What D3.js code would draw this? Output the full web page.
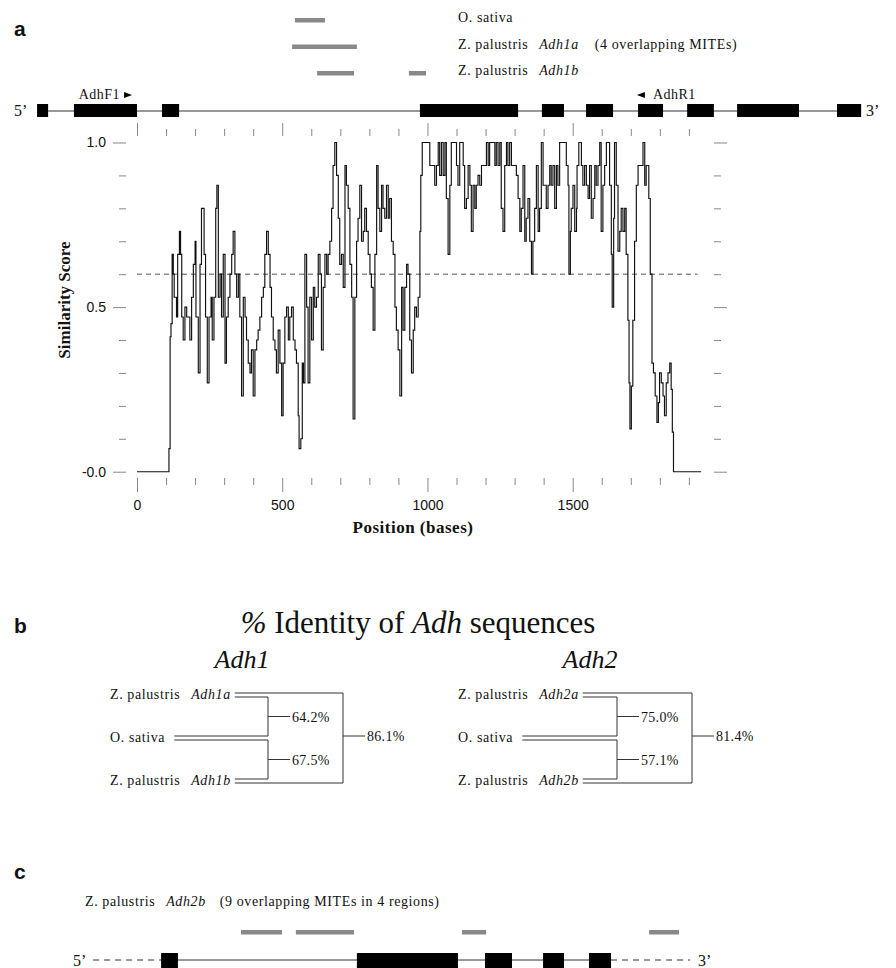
<!DOCTYPE html>
<html>
<head>
<meta charset="utf-8">
<script src="https://cdn.jsdelivr.net/npm/d3@7"></script>
<style>
  body { margin: 0; background: #fff; }
  svg text { font-family: "Liberation Serif", "Times New Roman", serif; fill: #111; }
  svg .sans { font-family: "Liberation Sans", Arial, sans-serif; }
</style>
</head>
<body>
<div id="chart"></div>
<script>
// similarity score along the amplified region (bases, score)
const simPosition = [
  0,107,110,114,117,121,125,128,133,136,
  140,146,150,154,159,165,171,177,182,188,
  194,200,203,211,217,222,228,231,236,242,
  248,255,259,265,271,275,280,286,291,297,
  303,308,314,320,326,331,337,343,349,354,
  360,366,372,377,383,389,394,400,406,412,
  417,423,429,435,440,446,452,458,463,469,
  475,480,486,492,498,503,509,515,521,526,
  532,538,544,549,555,558,564,569,573,578,
  584,589,595,601,607,612,618,624,630,635,
  641,647,653,658,664,670,675,681,687,693,
  698,704,710,716,721,727,733,739,744,750,
  756,761,767,773,779,784,790,796,802,807,
  813,819,825,830,836,842,847,853,859,865,
  870,876,882,888,893,899,905,911,916,922,
  928,933,939,945,951,956,962,968,974,977,
  982,991,1008,1019,1025,1031,1037,1042,1048,1054,
  1060,1065,1071,1077,1082,1094,1100,1105,1111,1117,
  1123,1128,1134,1140,1146,1151,1157,1163,1168,1174,
  1180,1186,1191,1197,1203,1209,1214,1220,1226,1232,
  1237,1243,1249,1254,1260,1266,1272,1277,1283,1289,
  1295,1300,1306,1312,1318,1323,1329,1335,1340,1346,
  1352,1358,1363,1369,1375,1381,1386,1392,1398,1404,
  1409,1415,1421,1426,1432,1438,1444,1449,1455,1461,
  1472,1478,1484,1487,1492,1495,1501,1507,1513,1515,
  1521,1530,1535,1541,1547,1553,1558,1564,1570,1576,
  1581,1587,1593,1598,1604,1610,1616,1621,1627,1633,
  1636,1641,1644,1650,1656,1662,1667,1673,1679,1684,
  1690,1694,1697,1702,1707,1713,1719,1725,1730,1736,
  1742,1748,1753,1759,1762,1767,1773,1778,1784,1790,
  1795,1799,1805,1811,1816,1822,1828,1834,1839,1843,
  1847,1942
];
const simScore = [
  0,0,0.07,0.41,0.45,0.66,0.60,0.53,0.53,0.47,
  0.66,0.73,0.66,0.47,0.40,0.50,0.47,0.47,0.40,0.53,
  0.63,0.70,0.47,0.30,0.63,0.80,0.80,0.66,0.47,0.27,
  0.47,0.53,0.40,0.53,0.80,0.87,0.53,0.60,0.47,0.66,
  0.33,0.47,0.53,0.60,0.66,0.73,0.60,0.53,0.60,0.47,
  0.23,0.53,0.47,0.40,0.33,0.30,0.37,0.23,0.37,0.40,
  0.43,0.47,0.53,0.56,0.66,0.73,0.66,0.56,0.47,0.40,
  0.37,0.30,0.43,0.33,0.17,0.33,0.47,0.50,0.40,0.47,
  0.50,0.40,0.37,0.33,0.17,0.07,0.10,0.33,0.27,0.66,
  0.50,0.27,0.53,0.40,0.56,0.50,0.53,0.66,0.60,0.37,
  0.56,0.66,0.60,0.66,0.70,0.80,0.93,1.00,0.90,0.77,
  0.63,0.66,0.56,0.93,0.87,0.80,0.63,0.53,0.16,0.53,
  0.70,0.77,0.87,0.70,0.73,0.80,0.73,0.66,0.60,0.56,
  0.43,0.66,0.93,0.80,0.73,0.87,0.80,0.77,0.87,0.77,
  0.83,0.70,0.66,0.50,0.43,0.37,0.23,0.56,0.43,0.56,
  0.63,0.60,0.40,0.30,0.43,0.50,0.47,0.53,0.73,0.90,
  1.00,1.00,0.93,0.93,0.87,0.93,1.00,0.90,1.00,0.90,
  1.00,0.83,0.66,0.87,1.00,1.00,0.93,0.87,1.00,1.00,
  0.93,0.80,0.83,0.93,0.87,0.73,0.87,0.80,0.87,0.90,
  0.87,0.93,0.93,0.93,1.00,0.93,1.00,1.00,1.00,0.93,
  1.00,0.93,1.00,0.80,0.73,0.93,1.00,0.93,1.00,0.93,
  0.93,0.93,0.90,0.83,0.73,0.80,0.93,0.70,0.77,0.83,
  0.70,0.60,0.70,0.80,0.93,0.73,0.80,1.00,0.87,0.87,
  0.80,0.87,0.93,0.87,0.93,0.80,0.93,0.87,1.00,1.00,
  1.00,0.93,0.87,0.60,0.73,0.80,0.87,0.73,0.80,0.93,
  1.00,0.93,0.87,0.93,0.87,0.83,0.93,0.77,0.83,0.93,
  0.87,0.93,1.00,0.73,0.87,0.93,1.00,1.00,0.87,0.66,
  0.50,0.77,1.00,0.87,0.67,0.73,0.80,0.73,0.80,0.66,
  0.46,0.27,0.13,0.26,0.46,0.70,0.87,0.93,0.93,0.93,
  1.00,0.87,0.93,0.93,0.83,0.60,0.33,0.30,0.23,0.15,
  0.21,0.30,0.27,0.23,0.17,0.27,0.30,0.33,0.25,0.12,
  0,0
];
const threshold = 0.6;
const xTickValues = d3.range(0, 2000, 100);
const yTickValues = d3.range(0, 11).map(d => d / 10);
const yTickLabels = { 0: "-0.0", 0.5: "0.5", 1: "1.0" };

// Adh1 gene model (panel a), in bases relative to the plot origin
const exonsA = [[-344,-306],[-217,0],[86,145],[974,1312],[1394,1470],[1546,1639],[1725,1811],[1894,1986],[2066,2279],[2410,2493]];
const primers = [{ name: "AdhF1", tip: -17, dir: 1 }, { name: "AdhR1", tip: 1721, dir: -1 }];
const miteTracksA = ["O. sativa", "Adh1a", "Adh1b"];
const miteSegmentsA = [[[544,647]], [[534,757]], [[620,747],[936,995]]];

// % identity trees (panel b)
const adh1Leaves = [["Z. palustris", "Adh1a"], ["O. sativa", ""], ["Z. palustris", "Adh1b"]];
const adh1Identity = ["64.2%", "67.5%", "86.1%"];
const adh2Leaves = [["Z. palustris", "Adh2a"], ["O. sativa", ""], ["Z. palustris", "Adh2b"]];
const adh2Identity = ["75.0%", "57.1%", "81.4%"];

// Adh2b gene model (panel c)
const exonsC = [[83,141],[757,1105],[1198,1291],[1398,1470],[1556,1632]];
const flanksC = [-151, 1904];
const miteSegmentsC = [[358,499],[547,747],[1119,1202],[1763,1866]];

const width = 896, height = 968;
const svg = d3.select("#chart").append("svg")
  .attr("width", width).attr("height", height)
  .style("display", "block");

const x = d3.scaleLinear().domain([0, 1500]).range([137, 572.7]);
const y = d3.scaleLinear().domain([0, 1]).range([471.7, 142.5]);
const miteY = d3.scalePoint().domain(miteTracksA).range([20, 73]);

const panelLabel = (txt, ty) => svg.append("text").attr("class", "sans")
  .attr("x", 14).attr("y", ty).style("font-size", "21px").style("font-weight", "bold").text(txt);

// ---------- panel a ----------
panelLabel("a", 36);

const mites = svg.append("g");
miteTracksA.forEach((t, i) => {
  mites.selectAll(null).data(miteSegmentsA[i]).join("rect")
    .attr("x", d => x(d[0])).attr("width", d => x(d[1]) - x(d[0]))
    .attr("y", miteY(t) - 2).attr("height", 4.5).attr("fill", "#888");
});
const trackLabel = (ty, parts) => {
  const t = svg.append("text").attr("x", 458).attr("y", ty)
    .style("font-size", "14px").style("letter-spacing", "0.6px");
  parts.forEach(([s, it, dx]) => t.append("tspan").attr("dx", dx || 0)
    .style("font-style", it ? "italic" : "normal").text(s));
};
trackLabel(miteY("O. sativa") + 2, [["O. sativa"]]);
trackLabel(miteY("Adh1a") + 2, [["Z. palustris"], ["Adh1a", true, 11], ["(4 overlapping MITEs)", false, 16]]);
trackLabel(miteY("Adh1b") + 2, [["Z. palustris"], ["Adh1b", true, 11]]);

const geneA = svg.append("g");
geneA.append("line").attr("x1", x(exonsA[0][1])).attr("x2", x(exonsA[exonsA.length - 1][0]))
  .attr("y1", 111).attr("y2", 111).attr("stroke", "#333");
geneA.selectAll("rect").data(exonsA).join("rect")
  .attr("x", d => x(d[0])).attr("width", d => x(d[1]) - x(d[0]))
  .attr("y", 104).attr("height", 13).attr("fill", "#000");
svg.append("text").attr("x", 14).attr("y", 116).style("font-size", "16px").text("5\u2019");
svg.append("text").attr("x", 866).attr("y", 116).style("font-size", "16px").text("3\u2019");
primers.forEach(p => {
  const px = x(p.tip);
  svg.append("path").attr("fill", "#000")
    .attr("d", `M${px},95 L${px - 8 * p.dir},92 L${px - 8 * p.dir},98 Z`);
  svg.append("text").attr("x", p.dir > 0 ? px - 12 : px + 16).attr("y", 99)
    .attr("text-anchor", p.dir > 0 ? "end" : "start")
    .style("font-size", "14px").style("letter-spacing", "0.5px").text(p.name);
});

// axes
const axisStyle = g => {
  g.select(".domain").remove();
  g.selectAll(".tick line").attr("stroke", "#888");
  g.selectAll(".tick text").attr("class", "sans").style("font-size", "14px").attr("fill", "#111");
};
const isMajorX = d => d % 500 === 0;
const isMajorY = d => Math.abs(d * 2 - Math.round(d * 2)) < 1e-9;

svg.append("g").attr("transform", "translate(0,478)")
  .call(d3.axisBottom(x).tickValues(xTickValues).tickSize(7).tickPadding(15)
    .tickFormat(d => isMajorX(d) ? d3.format("d")(d) : ""))
  .call(axisStyle)
  .call(g => g.selectAll(".tick line").attr("y2", d => isMajorX(d) ? 14 : 7));

svg.append("g").attr("transform", "translate(0,136)")
  .call(d3.axisTop(x).tickValues(xTickValues).tickSize(7).tickFormat(""))
  .call(axisStyle)
  .call(g => g.selectAll(".tick line").attr("y2", d => isMajorX(d) ? -13 : -7));

svg.append("g").attr("transform", "translate(126,0)")
  .call(d3.axisLeft(y).tickValues(yTickValues).tickSize(7)
    .tickFormat(d => yTickLabels[d] || ""))
  .call(axisStyle)
  .call(g => g.selectAll(".tick line").attr("x2", d => isMajorY(d) ? -13 : -7))
  .call(g => g.selectAll(".tick text").attr("x", -20));

svg.append("g").attr("transform", "translate(714,0)")
  .call(d3.axisRight(y).tickValues(yTickValues).tickSize(7).tickFormat(""))
  .call(axisStyle)
  .call(g => g.selectAll(".tick line").attr("x2", d => isMajorY(d) ? 13 : 7));

svg.append("line").attr("x1", x(0)).attr("x2", x(1930))
  .attr("y1", y(threshold)).attr("y2", y(threshold))
  .attr("stroke", "#555").attr("stroke-dasharray", "5,4");

const simLine = d3.line().x(d => x(d[0])).y(d => y(d[1])).curve(d3.curveStepAfter);
svg.append("path").datum(d3.zip(simPosition, simScore))
  .attr("d", simLine).attr("fill", "none").attr("stroke", "#111").attr("stroke-width", 1.15);

svg.append("text").attr("transform", "translate(70,300) rotate(-90)")
  .attr("text-anchor", "middle").style("font-size", "17px").style("font-weight", "bold")
  .text("Similarity Score");
svg.append("text").attr("x", 413).attr("y", 533).attr("text-anchor", "middle")
  .style("font-size", "17px").style("font-weight", "bold").style("letter-spacing", "0.5px")
  .text("Position (bases)");

// ---------- panel b ----------
panelLabel("b", 633);
const title = svg.append("text").attr("x", 418).attr("y", 633).attr("text-anchor", "middle")
  .style("font-size", "31px");
title.append("tspan").style("font-style", "italic").text("%");
title.append("tspan").text(" Identity of ");
title.append("tspan").style("font-style", "italic").text("Adh");
title.append("tspan").text(" sequences");
svg.append("text").attr("x", 242).attr("y", 668).attr("text-anchor", "middle")
  .style("font-size", "26px").style("font-style", "italic").text("Adh1");
svg.append("text").attr("x", 590).attr("y", 668).attr("text-anchor", "middle")
  .style("font-size", "26px").style("font-style", "italic").text("Adh2");

const rowY = d3.scalePoint().domain([0, 1, 2]).range([695, 781]);

function drawTree({ labelX, innerX, outerX, leaves, identity }) {
  const g = svg.append("g");
  const seg = (x1, y1, x2, y2) => g.append("line")
    .attr("x1", x1).attr("y1", y1).attr("x2", x2).attr("y2", y2).attr("stroke", "#333");
  const ys = leaves.map((d, i) => rowY(i));
  const starts = leaves.map((d, i) => {
    const t = g.append("text").attr("x", labelX).attr("y", ys[i] + 4)
      .style("font-size", "14px").style("letter-spacing", "0.6px");
    t.append("tspan").text(d[0]);
    if (d[1]) t.append("tspan").attr("dx", 11).style("font-style", "italic").text(d[1]);
    const bb = t.node().getBBox();
    return bb.x + bb.width + (d[1] ? 4 : 9);
  });
  // double lines from each leaf
  seg(starts[0], ys[0] - 2, outerX, ys[0] - 2);
  seg(starts[0], ys[0] + 2, innerX, ys[0] + 2);
  seg(starts[1], ys[1] - 2, innerX, ys[1] - 2);
  seg(starts[1], ys[1] + 2, innerX, ys[1] + 2);
  seg(starts[2], ys[2] - 2, innerX, ys[2] - 2);
  seg(starts[2], ys[2] + 2, outerX, ys[2] + 2);
  // brackets
  seg(innerX, ys[0] + 2, innerX, ys[1] - 2);
  seg(innerX, ys[1] + 2, innerX, ys[2] - 2);
  seg(outerX, ys[0] - 2, outerX, ys[2] + 2);
  const stubs = [[innerX, (ys[0] + ys[1]) / 2], [innerX, (ys[1] + ys[2]) / 2], [outerX, ys[1] - 2]];
  stubs.forEach(([sx, sy], i) => {
    seg(sx, sy, sx + 22, sy);
    g.append("text").attr("x", sx + 24).attr("y", sy + 5)
      .style("font-size", "14px").style("letter-spacing", "0.3px").text(identity[i]);
  });
}
drawTree({ labelX: 110, innerX: 268, outerX: 343, leaves: adh1Leaves, identity: adh1Identity });
drawTree({ labelX: 458, innerX: 617, outerX: 692, leaves: adh2Leaves, identity: adh2Identity });

// ---------- panel c ----------
panelLabel("c", 879);
const labC = svg.append("text").attr("x", 85).attr("y", 906)
  .style("font-size", "14px").style("letter-spacing", "0.6px");
labC.append("tspan").text("Z. palustris");
labC.append("tspan").attr("dx", 11).style("font-style", "italic").text("Adh2b");
labC.append("tspan").attr("dx", 14).text("(9 overlapping MITEs in 4 regions)");

svg.append("g").selectAll("rect").data(miteSegmentsC).join("rect")
  .attr("x", d => x(d[0])).attr("width", d => x(d[1]) - x(d[0]))
  .attr("y", 930).attr("height", 4.5).attr("fill", "#888");

const geneC = svg.append("g");
geneC.append("line").attr("x1", x(flanksC[0])).attr("x2", x(exonsC[0][0]))
  .attr("y1", 960).attr("y2", 960).attr("stroke", "#333").attr("stroke-dasharray", "6,5");
geneC.append("line").attr("x1", x(exonsC[exonsC.length - 1][1])).attr("x2", x(flanksC[1]))
  .attr("y1", 960).attr("y2", 960).attr("stroke", "#333").attr("stroke-dasharray", "6,5");
geneC.append("line").attr("x1", x(exonsC[0][0])).attr("x2", x(exonsC[exonsC.length - 1][1]))
  .attr("y1", 960).attr("y2", 960).attr("stroke", "#333");
geneC.selectAll("rect").data(exonsC).join("rect")
  .attr("x", d => x(d[0])).attr("width", d => x(d[1]) - x(d[0]))
  .attr("y", 953).attr("height", 15).attr("fill", "#000");
svg.append("text").attr("x", 73).attr("y", 966).style("font-size", "16px").text("5\u2019");
svg.append("text").attr("x", 698).attr("y", 966).style("font-size", "16px").text("3\u2019");
</script>
</body>
</html>
